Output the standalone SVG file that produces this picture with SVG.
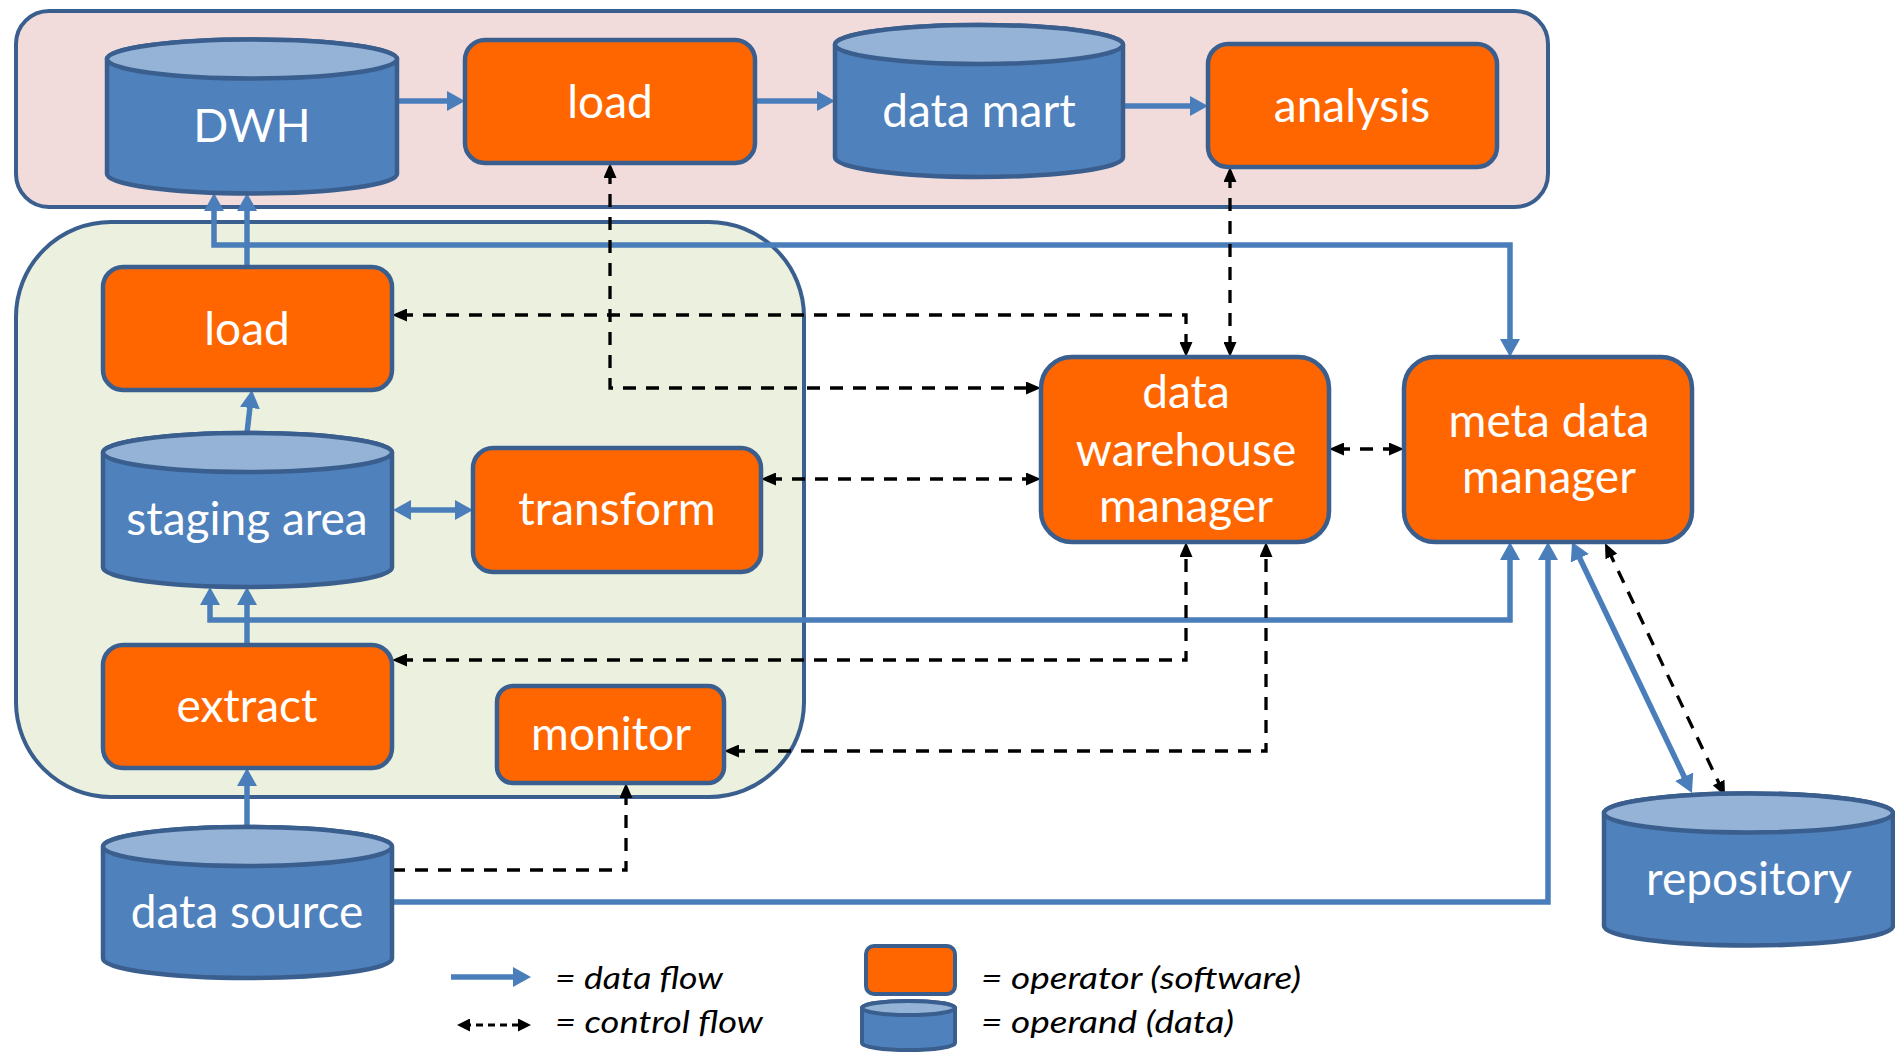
<svg xmlns="http://www.w3.org/2000/svg" width="1895" height="1052" viewBox="0 0 1895 1052">
<defs>
<style>
.cont{stroke:#3A5F8E;stroke-width:4}
.op{fill:#FF6600;stroke:#3A5F8E;stroke-width:4.5}
.body{fill:#4F81BD;stroke:#3A5F8E;stroke-width:4.5}
.top{fill:#95B3D7;stroke:#3A5F8E;stroke-width:4.5}
.lbl{font-family:Lato,"Liberation Sans",sans-serif;font-size:46px;fill:#FFFFFF;text-anchor:middle}
.leg{font-family:Lato,"Liberation Sans",sans-serif;font-size:31px;font-style:italic;fill:#000000}
.data{fill:none;stroke:#4A7EBB;stroke-width:5.5;stroke-linejoin:miter}
.ctrl{fill:none;stroke:#000000;stroke-width:3.3;stroke-dasharray:13 10}
</style>
<marker id="ba" markerUnits="userSpaceOnUse" viewBox="0 0 18 20" markerWidth="18" markerHeight="20" refX="10" refY="10" orient="auto-start-reverse">
<path d="M0,0 L18,10 L0,20 Z" fill="#4A7EBB" stroke="none"/>
</marker>
<marker id="ka" markerUnits="userSpaceOnUse" viewBox="0 0 15 13" markerWidth="15" markerHeight="13" refX="7" refY="6.5" orient="auto-start-reverse">
<path d="M0,0 L15,6.5 L0,13 Z" fill="#000000" stroke="none"/>
</marker>
<marker id="ks" markerUnits="userSpaceOnUse" viewBox="0 0 13 13" markerWidth="13" markerHeight="13" refX="6" refY="6.5" orient="auto-start-reverse">
<path d="M0,0 L13,6.5 L0,13 Z" fill="#000000" stroke="none"/>
</marker>
</defs>
<rect width="1895" height="1052" fill="#FFFFFF"/>

<g id="containers">
<rect id="analysis-area" class="cont" x="16" y="11" width="1532" height="196" rx="33" fill="#F2DCDB"/>
<rect id="staging-process" class="cont" x="16" y="222" width="788" height="575" rx="95" fill="#EBF1DE"/>
</g>

<g id="connectors">
<path class="data" d="M399,101 L457,101" marker-end="url(#ba)"/>
<path class="data" d="M755,101 L827,101" marker-end="url(#ba)"/>
<path class="data" d="M1125,106 L1200,106" marker-end="url(#ba)"/>
<path class="data" d="M247,267 L247,201" marker-end="url(#ba)"/>
<path class="data" d="M214,201 L214,245 L1510,245 L1510,349" marker-start="url(#ba)" marker-end="url(#ba)"/>
<path class="data" d="M210,595 L210,620 L1510,620 L1510,550" marker-start="url(#ba)" marker-end="url(#ba)"/>
<path class="data" d="M247,645 L247,595" marker-end="url(#ba)"/>
<path class="data" d="M247,827 L247,776" marker-end="url(#ba)"/>
<path class="data" d="M392,902 L1548,902 L1548,550" marker-end="url(#ba)"/>
<path class="data" d="M247,433 L251,398" marker-end="url(#ba)"/>
<path class="data" d="M401,510 L465,510" marker-start="url(#ba)" marker-end="url(#ba)"/>
<path class="data" d="M1575.5,549.2 L1688.5,785.8" marker-start="url(#ba)" marker-end="url(#ba)"/>

<path class="ctrl" d="M610,171 L610,388 L1033,388" marker-start="url(#ka)" marker-end="url(#ka)"/>
<path class="ctrl" d="M400,315 L1186,315 L1186,349" marker-start="url(#ka)" marker-end="url(#ka)"/>
<path class="ctrl" d="M1230,175 L1230,349" marker-start="url(#ka)" marker-end="url(#ka)"/>
<path class="ctrl" d="M769,479 L1033,479" marker-start="url(#ka)" marker-end="url(#ka)"/>
<path class="ctrl" d="M1337,449 L1396,449" marker-start="url(#ka)" marker-end="url(#ka)"/>
<path class="ctrl" d="M400,660 L1186,660 L1186,550" marker-start="url(#ka)" marker-end="url(#ka)"/>
<path class="ctrl" d="M732,751 L1266,751 L1266,550" marker-start="url(#ka)" marker-end="url(#ka)"/>
<path class="ctrl" d="M392,870 L626,870 L626,791" marker-end="url(#ka)"/>
<path class="ctrl" d="M1608.4,550.2 L1721.6,788.8" marker-start="url(#ka)" marker-end="url(#ka)"/>
</g>

<g id="node-dwh">
<path class="body" d="M107,59 V174 A145,19.5 0 0 0 397,174 V59 A145,19.5 0 0 0 107,59 Z"/>
<ellipse class="top" cx="252" cy="59" rx="145" ry="19.5"/>
<text class="lbl" x="252" y="142">DWH</text>
</g>
<g id="node-load-top">
<rect class="op" x="465" y="40" width="290" height="123" rx="20"/>
<text class="lbl" x="610" y="118">load</text>
</g>
<g id="node-data-mart">
<path class="body" d="M835,44.5 V157.5 A144,19.5 0 0 0 1123,157.5 V44.5 A144,19.5 0 0 0 835,44.5 Z"/>
<ellipse class="top" cx="979" cy="44.5" rx="144" ry="19.5"/>
<text class="lbl" x="979" y="127">data mart</text>
</g>
<g id="node-analysis">
<rect class="op" x="1208" y="44" width="289" height="123" rx="20"/>
<text class="lbl" x="1352" y="122">analysis</text>
</g>
<g id="node-load">
<rect class="op" x="103" y="267" width="289" height="123" rx="20"/>
<text class="lbl" x="247" y="345">load</text>
</g>
<g id="node-staging-area">
<path class="body" d="M103,452.5 V567.5 A144.5,19.5 0 0 0 392,567.5 V452.5 A144.5,19.5 0 0 0 103,452.5 Z"/>
<ellipse class="top" cx="247.5" cy="452.5" rx="144.5" ry="19.5"/>
<text class="lbl" x="247" y="535">staging area</text>
</g>
<g id="node-transform">
<rect class="op" x="473" y="448" width="288" height="124" rx="20"/>
<text class="lbl" x="617" y="525">transform</text>
</g>
<g id="node-extract">
<rect class="op" x="103" y="645" width="289" height="123" rx="20"/>
<text class="lbl" x="247" y="722">extract</text>
</g>
<g id="node-monitor">
<rect class="op" x="497" y="686" width="227" height="97" rx="16"/>
<text class="lbl" x="611" y="750">monitor</text>
</g>
<g id="node-data-source">
<path class="body" d="M103,846.5 V958.5 A144.5,19.5 0 0 0 392,958.5 V846.5 A144.5,19.5 0 0 0 103,846.5 Z"/>
<ellipse class="top" cx="247.5" cy="846.5" rx="144.5" ry="19.5"/>
<text class="lbl" x="247" y="928">data source</text>
</g>
<g id="node-dw-manager">
<rect class="op" x="1041" y="357" width="288" height="185" rx="31"/>
<text class="lbl" x="1186" y="408">data</text>
<text class="lbl" x="1186" y="466">warehouse</text>
<text class="lbl" x="1186" y="522">manager</text>
</g>
<g id="node-meta-data-manager">
<rect class="op" x="1404" y="357" width="288" height="185" rx="31"/>
<text class="lbl" x="1549" y="437">meta data</text>
<text class="lbl" x="1549" y="493">manager</text>
</g>
<g id="node-repository">
<path class="body" d="M1604,813 V926 A144.5,19.5 0 0 0 1893,926 V813 A144.5,19.5 0 0 0 1604,813 Z"/>
<ellipse class="top" cx="1748.5" cy="813" rx="144.5" ry="19.5"/>
<text class="lbl" x="1749" y="895">repository</text>
</g>

<g id="legend">
<path class="data" d="M451,977 L523,977" marker-end="url(#ba)"/>
<text class="leg" x="555" y="989" textLength="168" lengthAdjust="spacingAndGlyphs">= data flow</text>
<path d="M464,1025 L524,1025" fill="none" stroke="#000000" stroke-width="3" stroke-dasharray="7 5" marker-start="url(#ks)" marker-end="url(#ks)"/>
<text class="leg" x="555" y="1033" textLength="208" lengthAdjust="spacingAndGlyphs">= control flow</text>
<rect class="op" x="866" y="946" width="89" height="48" rx="8" style="stroke-width:4"/>
<text class="leg" x="981" y="989" textLength="320" lengthAdjust="spacingAndGlyphs">= operator (software)</text>
<path class="body" style="stroke-width:4" d="M862,1008 V1043 A46.5,7 0 0 0 955,1043 V1008 A46.5,7 0 0 0 862,1008 Z"/>
<ellipse class="top" style="stroke-width:4" cx="908.5" cy="1008" rx="46.5" ry="7"/>
<text class="leg" x="981" y="1033" textLength="253" lengthAdjust="spacingAndGlyphs">= operand (data)</text>
</g>
</svg>
